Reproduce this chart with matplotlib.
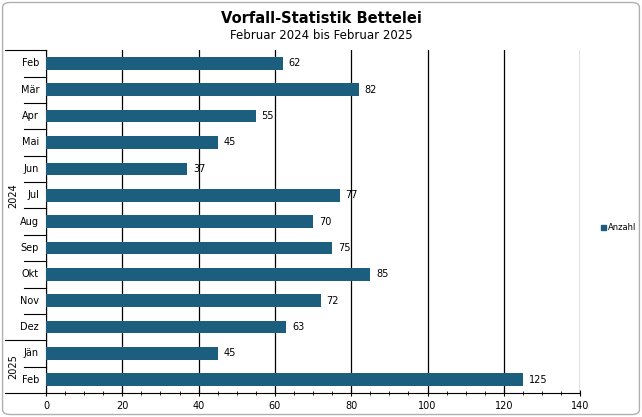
import matplotlib
matplotlib.use("Agg")
import matplotlib.pyplot as plt
import matplotlib.transforms as mtransforms
from matplotlib.patches import FancyBboxPatch

months = ["Feb", "Mär", "Apr", "Mai", "Jun", "Jul", "Aug", "Sep", "Okt", "Nov", "Dez", "Jän", "Feb"]
years = ["2024", "2025"]
year_counts = [11, 2]
anzahl = [62, 82, 55, 45, 37, 77, 70, 75, 85, 72, 63, 45, 125]

color = "#1b5e7e"
fig = plt.figure(figsize=(6.42, 4.17), dpi=100)
fig.patches.append(FancyBboxPatch((0.004, 0.006), 0.992, 0.988, boxstyle="round,pad=0,rounding_size=0.012",
                                  transform=fig.transFigure, fill=False, edgecolor="#b0b0b0", linewidth=1))
ax = fig.add_axes([0.0717, 0.0576, 0.832, 0.822])
n = len(months)
ypos = list(range(n))
ax.barh(ypos, anzahl, height=0.48, color=color, zorder=3)
for y, v in zip(ypos, anzahl):
    ax.text(v + 1.5, y, str(v), va="center", ha="left", fontsize=7)
ax.set_ylim(n - 0.5, -0.5)
ax.set_xlim(0, 140)
ax.set_xticks(range(0, 141, 20))
ax.set_xticks(range(0, 141, 5), minor=True)
ax.tick_params(axis="x", which="major", length=4, labelsize=7, direction="inout")
ax.tick_params(axis="x", which="minor", length=3, direction="inout")
ax.grid(axis="x", color="black", linewidth=0.9, zorder=0)
for s in ["top", "right"]:
    ax.spines[s].set_visible(False)
ax.spines["left"].set_color("black")
ax.spines["bottom"].set_color("black")
ax.set_yticks([])

tr = mtransforms.blended_transform_factory(ax.transAxes, ax.transData)
for i, m in enumerate(months):
    ax.text(-0.013, i, m, transform=tr, ha="right", va="center", fontsize=7)
for b in range(1, n):
    if b == year_counts[0]:
        continue
    ax.plot([-0.041, 0], [b - 0.5, b - 0.5], transform=tr, color="black", lw=0.8, clip_on=False)
start = 0
for yr, c in zip(years, year_counts):
    ax.plot([-0.077, 0], [start - 0.5, start - 0.5], transform=tr, color="black", lw=0.8, clip_on=False)
    ax.text(-0.062, start + (c - 1) / 2, yr, transform=tr, rotation=90, ha="center", va="center", fontsize=7)
    start += c
ax.plot([-0.077, 0], [n - 0.5, n - 0.5], transform=tr, color="black", lw=0.8, clip_on=False)

fig.text(0.5, 0.955, "Vorfall-Statistik Bettelei", ha="center", va="center", fontsize=10.5, fontweight="bold")
fig.text(0.5, 0.915, "Februar 2024 bis Februar 2025", ha="center", va="center", fontsize=8.5)
fig.patches.append(plt.Rectangle((0.936, 0.448), 0.008, 0.012, transform=fig.transFigure, color=color))
fig.text(0.947, 0.454, "Anzahl", ha="left", va="center", fontsize=6)

fig.savefig("out.png", dpi=100)
